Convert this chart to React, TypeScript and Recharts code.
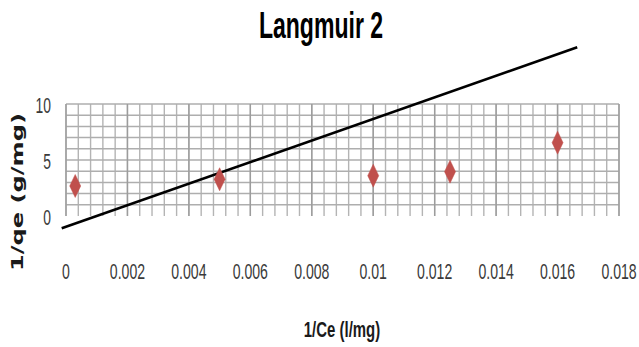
import React from 'react';
import { ComposedChart, Scatter, XAxis, YAxis, CartesianGrid, ReferenceLine } from 'recharts';

// Data points: 1/Ce (x) and 1/qe (y)
const xValues = [0.0003, 0.005, 0.01, 0.0125, 0.016];
const yValues = [2.68, 3.28, 3.6, 3.96, 6.55];

// Trendline end points
const trendX = [-0.00014, 0.01664];
const trendY = [-1.1, 15.06];

// Axis ticks and labels
const xTicks = [0, 0.002, 0.004, 0.006, 0.008, 0.01, 0.012, 0.014, 0.016, 0.018];
const xTickLabels = ['0', '0.002', '0.004', '0.006', '0.008', '0.01', '0.012', '0.014', '0.016', '0.018'];
const yTicks = [0, 5, 10];
const yTickLabels = ['0', '5', '10'];
const xMinorGrid = Array.from({ length: 46 }, (_, i) => Number((i * 0.0004).toFixed(4)));
const yGrid = [1, 2, 3, 4, 5, 6, 7, 8, 9, 10];

const title = 'Langmuir 2';
const xTitle = '1/Ce (l/mg)';
const yTitle = '1/qe (g/mg)';

const points = xValues.map((x, i) => ({ x, y: yValues[i] }));

const FONT = '"Liberation Sans", Arial, sans-serif';

const XTick = (props: any) => {
  const { x, y, payload } = props;
  const idx = xTicks.indexOf(payload.value);
  const label = idx >= 0 ? xTickLabels[idx] : String(payload.value);
  return (
    <g transform={`translate(${x},${y + 63}) scale(0.64,1)`}>
      <text x={0} y={0} textAnchor="middle" fontFamily={FONT} fontSize={22} fill="#3a3a3a">
        {label}
      </text>
    </g>
  );
};

const YTick = (props: any) => {
  const { y, payload } = props;
  const idx = yTicks.indexOf(payload.value);
  const label = idx >= 0 ? yTickLabels[idx] : String(payload.value);
  return (
    <g transform={`translate(51,${y + 9}) scale(0.63,1)`}>
      <text x={0} y={0} textAnchor="end" fontFamily={FONT} fontSize={22} fill="#3a3a3a">
        {label}
      </text>
    </g>
  );
};

const Diamond = (props: any) => {
  const { cx, cy } = props;
  if (cx == null || cy == null) return null;
  const w = 5.5;
  const h = 11.5;
  return (
    <polygon
      points={`${cx},${cy - h} ${cx + w},${cy} ${cx},${cy + h} ${cx - w},${cy}`}
      fill="#c0504d"
      stroke="#c0504d"
      strokeWidth={0.5}
    />
  );
};

export default function App() {
  return (
    <div style={{ position: 'absolute', left: 0, top: 0, width: 639, height: 347, background: '#fff' }}>
      <ComposedChart
        width={639}
        height={347}
        data={points}
        margin={{ top: 104, right: 20, bottom: 77, left: 0 }}
      >
        <CartesianGrid
          horizontal={false}
          verticalValues={xMinorGrid}
          stroke="#b4b4b4"
          strokeWidth={1.4}
        />
        <CartesianGrid
          vertical={false}
          horizontalValues={yGrid}
          stroke="#aeaeae"
          strokeWidth={1.5}
        />
        <CartesianGrid
          horizontal={false}
          verticalValues={xTicks}
          stroke="#9c9c9c"
          strokeWidth={1.4}
        />
        <XAxis
          type="number"
          dataKey="x"
          domain={[0, 0.018]}
          ticks={xTicks}
          interval={0}
          axisLine={false}
          tickLine={false}
          tickSize={0}
          tickMargin={0}
          height={54}
          tick={<XTick />}
          allowDataOverflow
        />
        <YAxis
          type="number"
          dataKey="y"
          domain={[0, 10]}
          ticks={yTicks}
          interval={0}
          axisLine={false}
          tickLine={false}
          tickSize={0}
          tickMargin={0}
          width={66}
          tick={<YTick />}
          allowDataOverflow
        />
        <ReferenceLine
          segment={[
            { x: trendX[0], y: trendY[0] },
            { x: trendX[1], y: trendY[1] },
          ]}
          stroke="#000"
          strokeWidth={2.6}
          ifOverflow="visible"
        />
        <Scatter dataKey="y" shape={<Diamond />} isAnimationActive={false} />
      </ComposedChart>
      <svg
        width={639}
        height={347}
        style={{ position: 'absolute', left: 0, top: 0, pointerEvents: 'none' }}
      >
        <g transform="translate(321,38) scale(0.64,1)">
          <text x={0} y={0} textAnchor="middle" fontFamily={FONT} fontWeight="bold" fontSize={36} fill="#000">
            {title}
          </text>
        </g>
        <g transform="translate(342,337) scale(0.68,1)">
          <text x={0} y={0} textAnchor="middle" fontFamily={FONT} fontWeight="bold" fontSize={22} fill="#1a1a1a">
            {xTitle}
          </text>
        </g>
        <text
          x={0}
          y={0}
          transform="translate(23,192) rotate(-90)"
          textAnchor="middle"
          fontFamily='"DejaVu Sans", sans-serif'
          fontWeight="bold"
          fontSize={16}
          textLength={158}
          lengthAdjust="spacingAndGlyphs"
          fill="#1a1a1a"
        >
          {yTitle}
        </text>
      </svg>
    </div>
  );
}
